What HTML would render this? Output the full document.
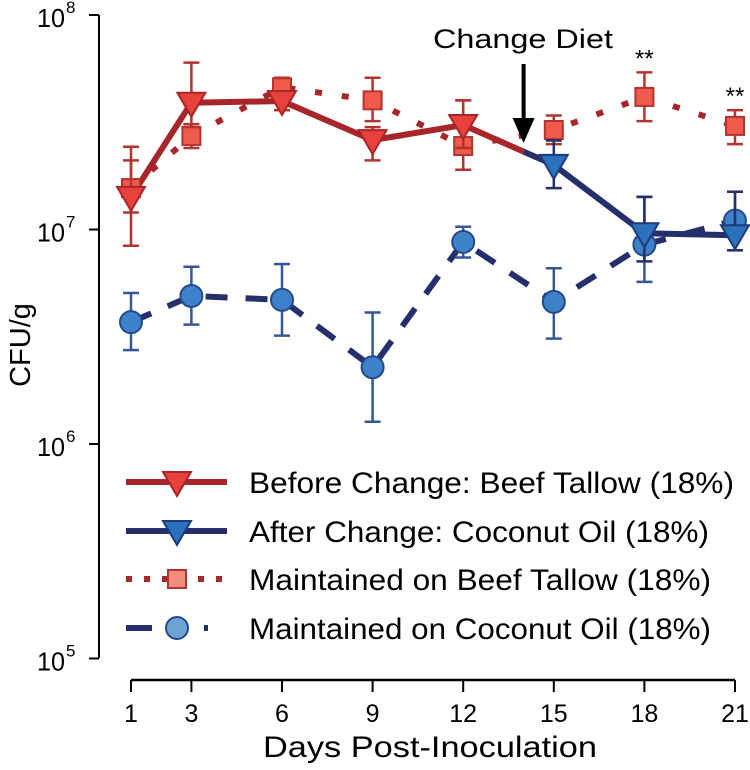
<!DOCTYPE html>
<html><head><meta charset="utf-8"><style>
html,body{margin:0;padding:0;background:#fff}
svg text{font-family:"Liberation Sans",Arial,sans-serif}
</style></head><body>
<svg id="chart" width="750" height="765" viewBox="0 0 750 765" xmlns="http://www.w3.org/2000/svg">
<g id="axes"></g>
<g id="plot"></g>
<g id="legend"></g>
</svg>
<script>
const xTicks = [1,3,6,9,12,15,18,21];
const yTickExps = [8,7,6,5];
const beforeDays = [1,3,6,9,12];
const beforeVals = [1.42e7,3.9e7,3.97e7,2.61e7,3.07e7];
const beforeLo = [8.4e6,3.0e7,3.6e7,2.1e7,2.4e7];
const beforeHi = [2.43e7,6.0e7,4.4e7,3.0e7,4.0e7];
const afterDays = [15,18,21];
const afterVals = [2.0e7,9.6e6,9.4e6];
const afterLo = [1.56e7,7.1e6,8.0e6];
const afterHi = [2.6e7,1.42e7,1.5e7];
const tallowDays = [1,3,6,9,12,15,18,21];
const tallowVals = [1.56e7,2.73e7,4.6e7,4.0e7,2.45e7,2.91e7,4.15e7,3.04e7];
const tallowLo = [1.2e7,2.4e7,4.2e7,3.2e7,1.9e7,2.5e7,3.2e7,2.5e7];
const tallowHi = [2.1e7,3.1e7,5.1e7,5.1e7,4.0e7,3.4e7,5.4e7,3.6e7];
const cocoDays = [1,3,6,9,12,15,18,21];
const cocoVals = [3.7e6,4.9e6,4.7e6,2.28e6,8.75e6,4.6e6,8.5e6,1.1e7];
const cocoLo = [2.74e6,3.6e6,3.2e6,1.27e6,7.4e6,3.1e6,5.7e6,8.0e6];
const cocoHi = [5.06e6,6.7e6,6.9e6,4.1e6,1.03e7,6.6e6,1.42e7,1.5e7];
const changeDay = 14;
const starDays = [18,21];
const legendLabels = ["Before Change: Beef Tallow (18%)","After Change: Coconut Oil (18%)","Maintained on Beef Tallow (18%)","Maintained on Coconut Oil (18%)"];

const NS="http://www.w3.org/2000/svg";
const X = d => 131 + (d-1)*30.2;
const Y = v => 15 + (8 - Math.log10(v))*214.5;
function el(tag, attrs, parent, txt){const e=document.createElementNS(NS,tag);for(const k in attrs)e.setAttribute(k,attrs[k]);if(txt!==undefined)e.textContent=txt;parent.appendChild(e);return e;}
const axes=document.getElementById('axes'), plot=document.getElementById('plot'), legend=document.getElementById('legend');

let a=el('line',{x1:99,y1:15,x2:99,y2:658,stroke:'#000','stroke-width':2},axes);

yTickExps.forEach(e=>{
  const y=Y(Math.pow(10,e));
  const t=el('line',{x1:89,y1:y,x2:99,y2:y,stroke:'#000','stroke-width':2},axes);
  
  const tx=el('text',{x:37,y:y+12,'font-size':26,fill:'#000',textLength:28,lengthAdjust:'spacingAndGlyphs'},axes);
  
  el('tspan',{},tx,'10');
  const sp=el('text',{x:66,y:y-2,'font-size':17},axes,String(e));
  
});
a=el('line',{x1:X(1),y1:680,x2:X(21),y2:680,stroke:'#000','stroke-width':2.5},axes);

xTicks.forEach(d=>{
  const t=el('line',{x1:X(d),y1:680,x2:X(d),y2:692,stroke:'#000','stroke-width':2},axes);
  
  const tx=el('text',{x:X(d),y:722,'font-size':25,'text-anchor':'middle'},axes,String(d));
  
});
let tt=el('text',{x:430,y:757,'font-size':30,'text-anchor':'middle',textLength:334,lengthAdjust:'spacingAndGlyphs'},axes,'Days Post-Inoculation');

tt=el('text',{x:0,y:0,'font-size':29,'text-anchor':'middle',transform:'translate(30,345) rotate(-90)'},axes,'CFU/g');


function pts(days,vals){return days.map((d,i)=>X(d)+','+Y(vals[i])).join(' ');}
const RED='#a8262a', NAVY='#252f6b', EBR='#b5332f', EBB='#34579a';
let l;
l=el('polyline',{points:pts(cocoDays,cocoVals),fill:'none',stroke:NAVY,'stroke-width':6,'stroke-dasharray':'22,18'},plot);

l=el('polyline',{points:pts(tallowDays,tallowVals),fill:'none',stroke:RED,'stroke-width':6,'stroke-dasharray':'7,20'},plot);

const lastB=beforeVals[beforeVals.length-1], firstA=afterVals[0];
const lb=Math.log10(lastB), la=Math.log10(firstA);
const fr=(changeDay-beforeDays[beforeDays.length-1])/(afterDays[0]-beforeDays[beforeDays.length-1]);
const midV=Math.pow(10,lb+(la-lb)*fr);
l=el('polyline',{points:pts(beforeDays.concat([changeDay]),beforeVals.concat([midV])),fill:'none',stroke:RED,'stroke-width':6},plot);

l=el('polyline',{points:pts([changeDay].concat(afterDays),[midV].concat(afterVals)),fill:'none',stroke:NAVY,'stroke-width':6},plot);


function errbar(x,lo,hi,col,name){
  const g=el('g',{stroke:col,'stroke-width':2.5},plot);
  
  el('line',{x1:x,y1:Y(lo),x2:x,y2:Y(hi)},g);
  el('line',{x1:x-8,y1:Y(lo),x2:x+8,y2:Y(lo)},g);
  el('line',{x1:x-8,y1:Y(hi),x2:x+8,y2:Y(hi)},g);
}
function tri(g,x,y,fill,stroke){el('polygon',{points:`${x-14},${y-10} ${x+14},${y-10} ${x},${y+14}`,fill:fill,stroke:stroke,'stroke-width':2},g);}
function sq(g,x,y,c){el('rect',{x:x-9,y:y-9,width:18,height:18,fill:c||'#ee5a4c',stroke:'#b5332f','stroke-width':2},g);}
function circ(g,x,y,c){el('circle',{cx:x,cy:y,r:11,fill:c||'#3d82c8',stroke:'#244a8a','stroke-width':2},g);}

cocoDays.forEach((d,i)=>{errbar(X(d),cocoLo[i],cocoHi[i],EBB,'coconut-error-bar');
  const m=el('g',{},plot);circ(m,X(d),Y(cocoVals[i]));});
tallowDays.forEach((d,i)=>{errbar(X(d),tallowLo[i],tallowHi[i],EBR,'tallow-error-bar');
  const m=el('g',{},plot);sq(m,X(d),Y(tallowVals[i]));});
beforeDays.forEach((d,i)=>{errbar(X(d),beforeLo[i],beforeHi[i],EBR,'before-error-bar');
  const m=el('g',{},plot);tri(m,X(d),Y(beforeVals[i]),'#e8403a','#a8262a');});
afterDays.forEach((d,i)=>{errbar(X(d),afterLo[i],afterHi[i],NAVY,'after-error-bar');
  const m=el('g',{},plot);tri(m,X(d),Y(afterVals[i]),'#2a72bd','#1f3a78');});

let an=el('text',{x:523,y:48,'font-size':27,'text-anchor':'middle',textLength:180,lengthAdjust:'spacingAndGlyphs'},plot,'Change Diet');

an=el('g',{},plot);
el('line',{x1:X(changeDay),y1:64,x2:X(changeDay),y2:122,stroke:'#000','stroke-width':4},an);
el('polygon',{points:`${X(changeDay)-11},118 ${X(changeDay)+11},118 ${X(changeDay)},143`,fill:'#000'},an);
starDays.forEach(d=>{const i=tallowDays.indexOf(d);
  const s=el('text',{x:X(d),y:Y(tallowHi[i])-6,'font-size':24,'text-anchor':'middle'},plot,'**');
  });

const ly=[482,531,579,628];
legendLabels.forEach((lab,i)=>{
  const g=el('g',{},legend);
  const y=ly[i];
  if(i===0){el('line',{x1:126,y1:y,x2:227,y2:y,stroke:RED,'stroke-width':6},g);tri(g,177,y,'#e8403a','#a8262a');}
  if(i===1){el('line',{x1:126,y1:y,x2:227,y2:y,stroke:NAVY,'stroke-width':6},g);tri(g,177,y,'#2a72bd','#1f3a78');}
  if(i===2){el('line',{x1:126,y1:y,x2:227,y2:y,stroke:RED,'stroke-width':6,'stroke-dasharray':'6,12'},g);sq(g,177,y,'#f28b80');}
  if(i===3){el('line',{x1:126,y1:y,x2:227,y2:y,stroke:NAVY,'stroke-width':6,'stroke-dasharray':'26,20,12,20,4,100'},g);circ(g,177,y,'#6fa3d6');}
  const t=el('text',{x:249,y:y+11,'font-size':30,textLength:(i===1?460:(i===0?485:462)),lengthAdjust:'spacingAndGlyphs'},g,lab);
});
</script>
</body></html>
